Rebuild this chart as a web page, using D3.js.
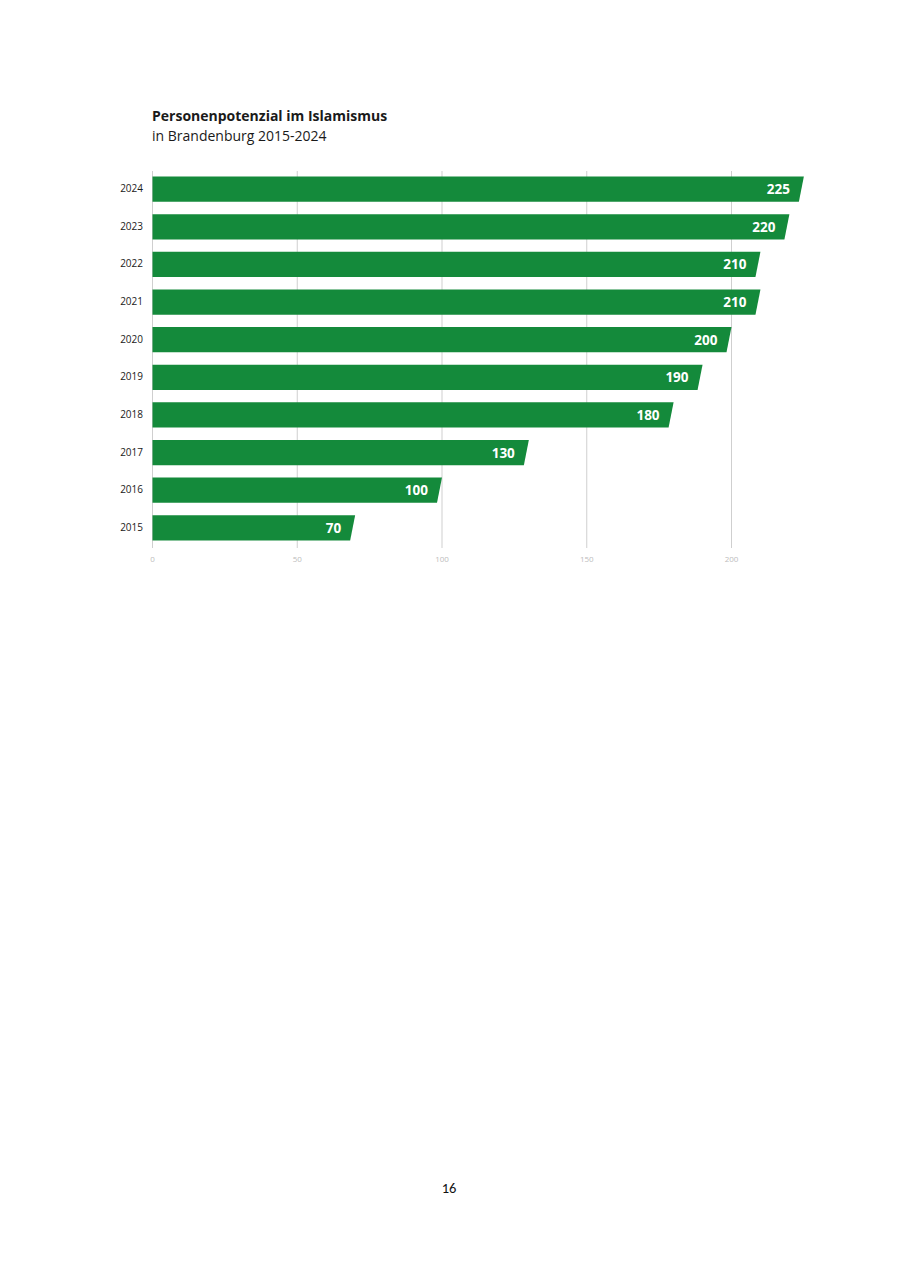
<!DOCTYPE html>
<html><head><meta charset="utf-8">
<script src="https://cdn.jsdelivr.net/npm/d3@7"></script>
<style>
html,body{margin:0;padding:0;background:#fff;}
svg{display:block;font-family:"Open Sans",sans-serif;}
</style></head>
<body>
<svg id="c" width="900" height="1272"></svg>
<script>
const years = ["2024","2023","2022","2021","2020","2019","2018","2017","2016","2015"];
const values = [225,220,210,210,200,190,180,130,100,70];
const ticks = [0,50,100,150,200];
const title = "Personenpotenzial im Islamismus";
const subtitle = "in Brandenburg 2015-2024";
const pageNumber = "16";

const svg = d3.select("#c");
const x = d3.scaleLinear().domain([0,200]).range([152.5,731.5]);
const y = d3.scaleBand().domain(years).range([169,548]).paddingInner(0.33).paddingOuter(0.2);

svg.append("text").attr("x",152).attr("y",121).attr("font-size",14).attr("font-weight",700).attr("fill","#1a1a1a").text(title);
svg.append("text").attr("x",152).attr("y",141).attr("font-size",14).attr("fill","#1a1a1a").text(subtitle);

// grid
const g = svg.append("g");
g.selectAll("line.grid").data(ticks).join("line")
  .attr("x1",d=>x(d)).attr("x2",d=>x(d)).attr("y1",171).attr("y2",548)
  .attr("stroke","#cfcfcf").attr("stroke-width",1);
g.selectAll("text.tick").data(ticks).join("text")
  .attr("x",d=>x(d)).attr("y",561.5).attr("text-anchor","middle")
  .attr("font-size",8).attr("fill","#bdbdbd").text(d=>d);

// bars with slanted right edge
const slant = 5;
const bh = y.bandwidth();
svg.append("g").selectAll("path").data(years).join("path")
  .attr("d",(d,i)=>{
    const y0=y(d), x0=x(0), x1=x(values[i]);
    return `M${x0},${y0}L${x1},${y0}L${x1-slant},${y0+bh}L${x0},${y0+bh}Z`;
  })
  .attr("fill","#148a3b");

svg.append("g").selectAll("text").data(years).join("text")
  .attr("x",(d,i)=>x(values[i])-14).attr("y",d=>y(d)+bh/2+5)
  .attr("text-anchor","end").attr("font-size",13.5).attr("font-weight",700).attr("fill","#fff")
  .text((d,i)=>values[i]);

svg.append("g").selectAll("text").data(years).join("text")
  .attr("x",143).attr("y",d=>y(d)+bh/2+3)
  .attr("text-anchor","end").attr("font-size",10).attr("fill","#1a1a1a")
  .text(d=>d);

svg.append("text").attr("x",449).attr("y",1193).attr("text-anchor","middle")
  .attr("font-size",14.5).attr("fill","#111").attr("font-family","Carlito, 'Liberation Sans', sans-serif").text(pageNumber);
</script>
</body></html>
